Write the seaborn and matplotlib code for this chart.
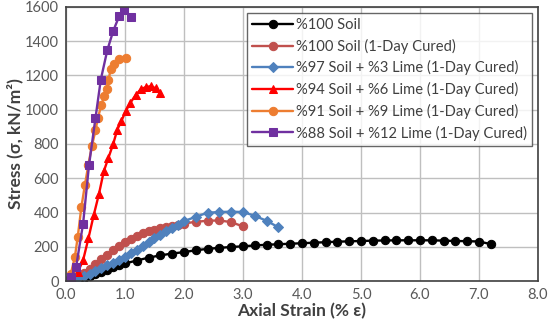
import numpy as np
import pandas as pd
import matplotlib
matplotlib.use("Agg")
import matplotlib.pyplot as plt
import seaborn as sns

labels = ["%100 Soil", "%100 Soil (1-Day Cured)", "%97 Soil + %3 Lime (1-Day Cured)",
          "%94 Soil + %6 Lime (1-Day Cured)", "%91 Soil + %9 Lime (1-Day Cured)",
          "%88 Soil + %12 Lime (1-Day Cured)"]

soil_x = [0, 0.1, 0.2, 0.3, 0.4, 0.5, 0.6, 0.7, 0.8, 0.9, 1.0, 1.2, 1.4, 1.6, 1.8, 2.0, 2.2, 2.4, 2.6, 2.8,
          3.0, 3.2, 3.4, 3.6, 3.8, 4.0, 4.2, 4.4, 4.6, 4.8, 5.0, 5.2, 5.4, 5.6, 5.8, 6.0, 6.2, 6.4, 6.6,
          6.8, 7.0, 7.2]
soil_y = [0, 5, 12, 20, 30, 40, 52, 65, 80, 92, 103, 120, 137, 150, 161, 169, 180, 188, 194, 199,
          203, 208, 212, 215, 218, 221, 224, 227, 230, 232, 234, 236, 237, 238, 238, 238, 238, 236, 234,
          233, 231, 216]

cured_x = [0, 0.1, 0.2, 0.3, 0.4, 0.5, 0.6, 0.7, 0.8, 0.9, 1.0, 1.1, 1.2, 1.3, 1.4, 1.5, 1.6, 1.7, 1.8,
           1.9, 2.0, 2.2, 2.4, 2.6, 2.8, 3.0]
cured_y = [0, 12, 28, 48, 72, 100, 130, 155, 180, 205, 228, 248, 265, 278, 290, 300, 308, 316, 323,
           330, 336, 346, 352, 354, 344, 319]

lime3_x = [0, 0.1, 0.2, 0.3, 0.4, 0.5, 0.6, 0.7, 0.8, 0.9, 1.0, 1.1, 1.2, 1.3, 1.4, 1.5, 1.6, 1.7, 1.8,
           1.9, 2.0, 2.2, 2.4, 2.6, 2.8, 3.0, 3.2, 3.4, 3.6]
lime3_y = [0, 8, 18, 30, 42, 60, 75, 92, 108, 125, 142, 162, 182, 205, 228, 249, 268, 290, 310,
           330, 350, 375, 399, 403, 405, 403, 381, 352, 314]

lime6_x = [0, 0.1, 0.2, 0.29, 0.38, 0.47, 0.56, 0.64, 0.72, 0.8, 0.87, 0.94, 1.01, 1.09, 1.18, 1.27,
           1.36, 1.44, 1.52, 1.6]
lime6_y = [0, 15, 52, 122, 249, 385, 510, 640, 720, 800, 884, 935, 990, 1040, 1085, 1120,
           1133, 1137, 1125, 1098]

lime9_x = [0, 0.08, 0.15, 0.2, 0.26, 0.32, 0.38, 0.44, 0.5, 0.54, 0.6, 0.65, 0.69, 0.72, 0.76, 0.81,
           0.9, 1.01]
lime9_y = [0, 40, 140, 260, 430, 560, 680, 790, 880, 950, 1030, 1080, 1123, 1172, 1240, 1269,
           1298, 1304]

lime12_x = [0, 0.085, 0.17, 0.29, 0.39, 0.5, 0.59, 0.7, 0.8, 0.9, 0.99, 1.1]
lime12_y = [0, 25, 80, 336, 676, 952, 1176, 1347, 1459, 1545, 1580, 1541]

series = [(soil_x, soil_y), (cured_x, cured_y), (lime3_x, lime3_y),
          (lime6_x, lime6_y), (lime9_x, lime9_y), (lime12_x, lime12_y)]
colors = ["#000000", "#C0504D", "#4F81BD", "#FF0000", "#ED7D31", "#7030A0"]
markers = ["o", "o", "D", "^", "o", "s"]
msizes = [6, 6, 5.5, 6, 6, 6]

sns.set_theme(style="white")
plt.rcParams['font.family'] = ['Lato', 'DejaVu Sans']

fig = plt.figure(figsize=(5.5, 3.28), dpi=100)
ax = fig.add_axes([0.12, 0.143, 0.858, 0.836])

for (xs, ys), lab, c, m, ms in zip(series, labels, colors, markers, msizes):
    df = pd.DataFrame({"x": xs, "y": ys})
    sns.lineplot(data=df, x="x", y="y", ax=ax, color=c, marker=m, markersize=ms,
                 markeredgecolor=c, linewidth=1.7, sort=False, label=lab, estimator=None)

ax.set_xlim(0, 8)
ax.set_ylim(0, 1600)
ax.set_xticks(np.arange(0, 8.1, 1.0))
ax.set_xticklabels([f"{v:.1f}" for v in np.arange(0, 8.1, 1.0)])
ax.set_yticks(np.arange(0, 1601, 200))
ax.grid(True, color="#BFBFBF", linewidth=1.0)
ax.set_axisbelow(True)
for s in ax.spines.values():
    s.set_color("#404040")
    s.set_linewidth(1.2)
ax.tick_params(axis="both", labelsize=10.5, colors="#595959", length=0, pad=5)
ax.set_xlabel("Axial Strain (% ε)", fontsize=12.5, fontweight="bold", color="#404040", labelpad=1)
ax.set_ylabel("Stress (σ, kN/m²)", fontsize=12.5, fontweight="bold", color="#404040", labelpad=1)

leg = ax.legend(loc="upper right", bbox_to_anchor=(0.988, 0.978), fontsize=10.6, frameon=True,
                fancybox=False, edgecolor="#404040", handlelength=2.8, borderpad=0.35,
                labelspacing=0.45, handletextpad=0.2, borderaxespad=0)
leg.get_frame().set_linewidth(1.0)
for t in leg.get_texts():
    t.set_color("#404040")

fig.savefig("out.png", dpi=100)
